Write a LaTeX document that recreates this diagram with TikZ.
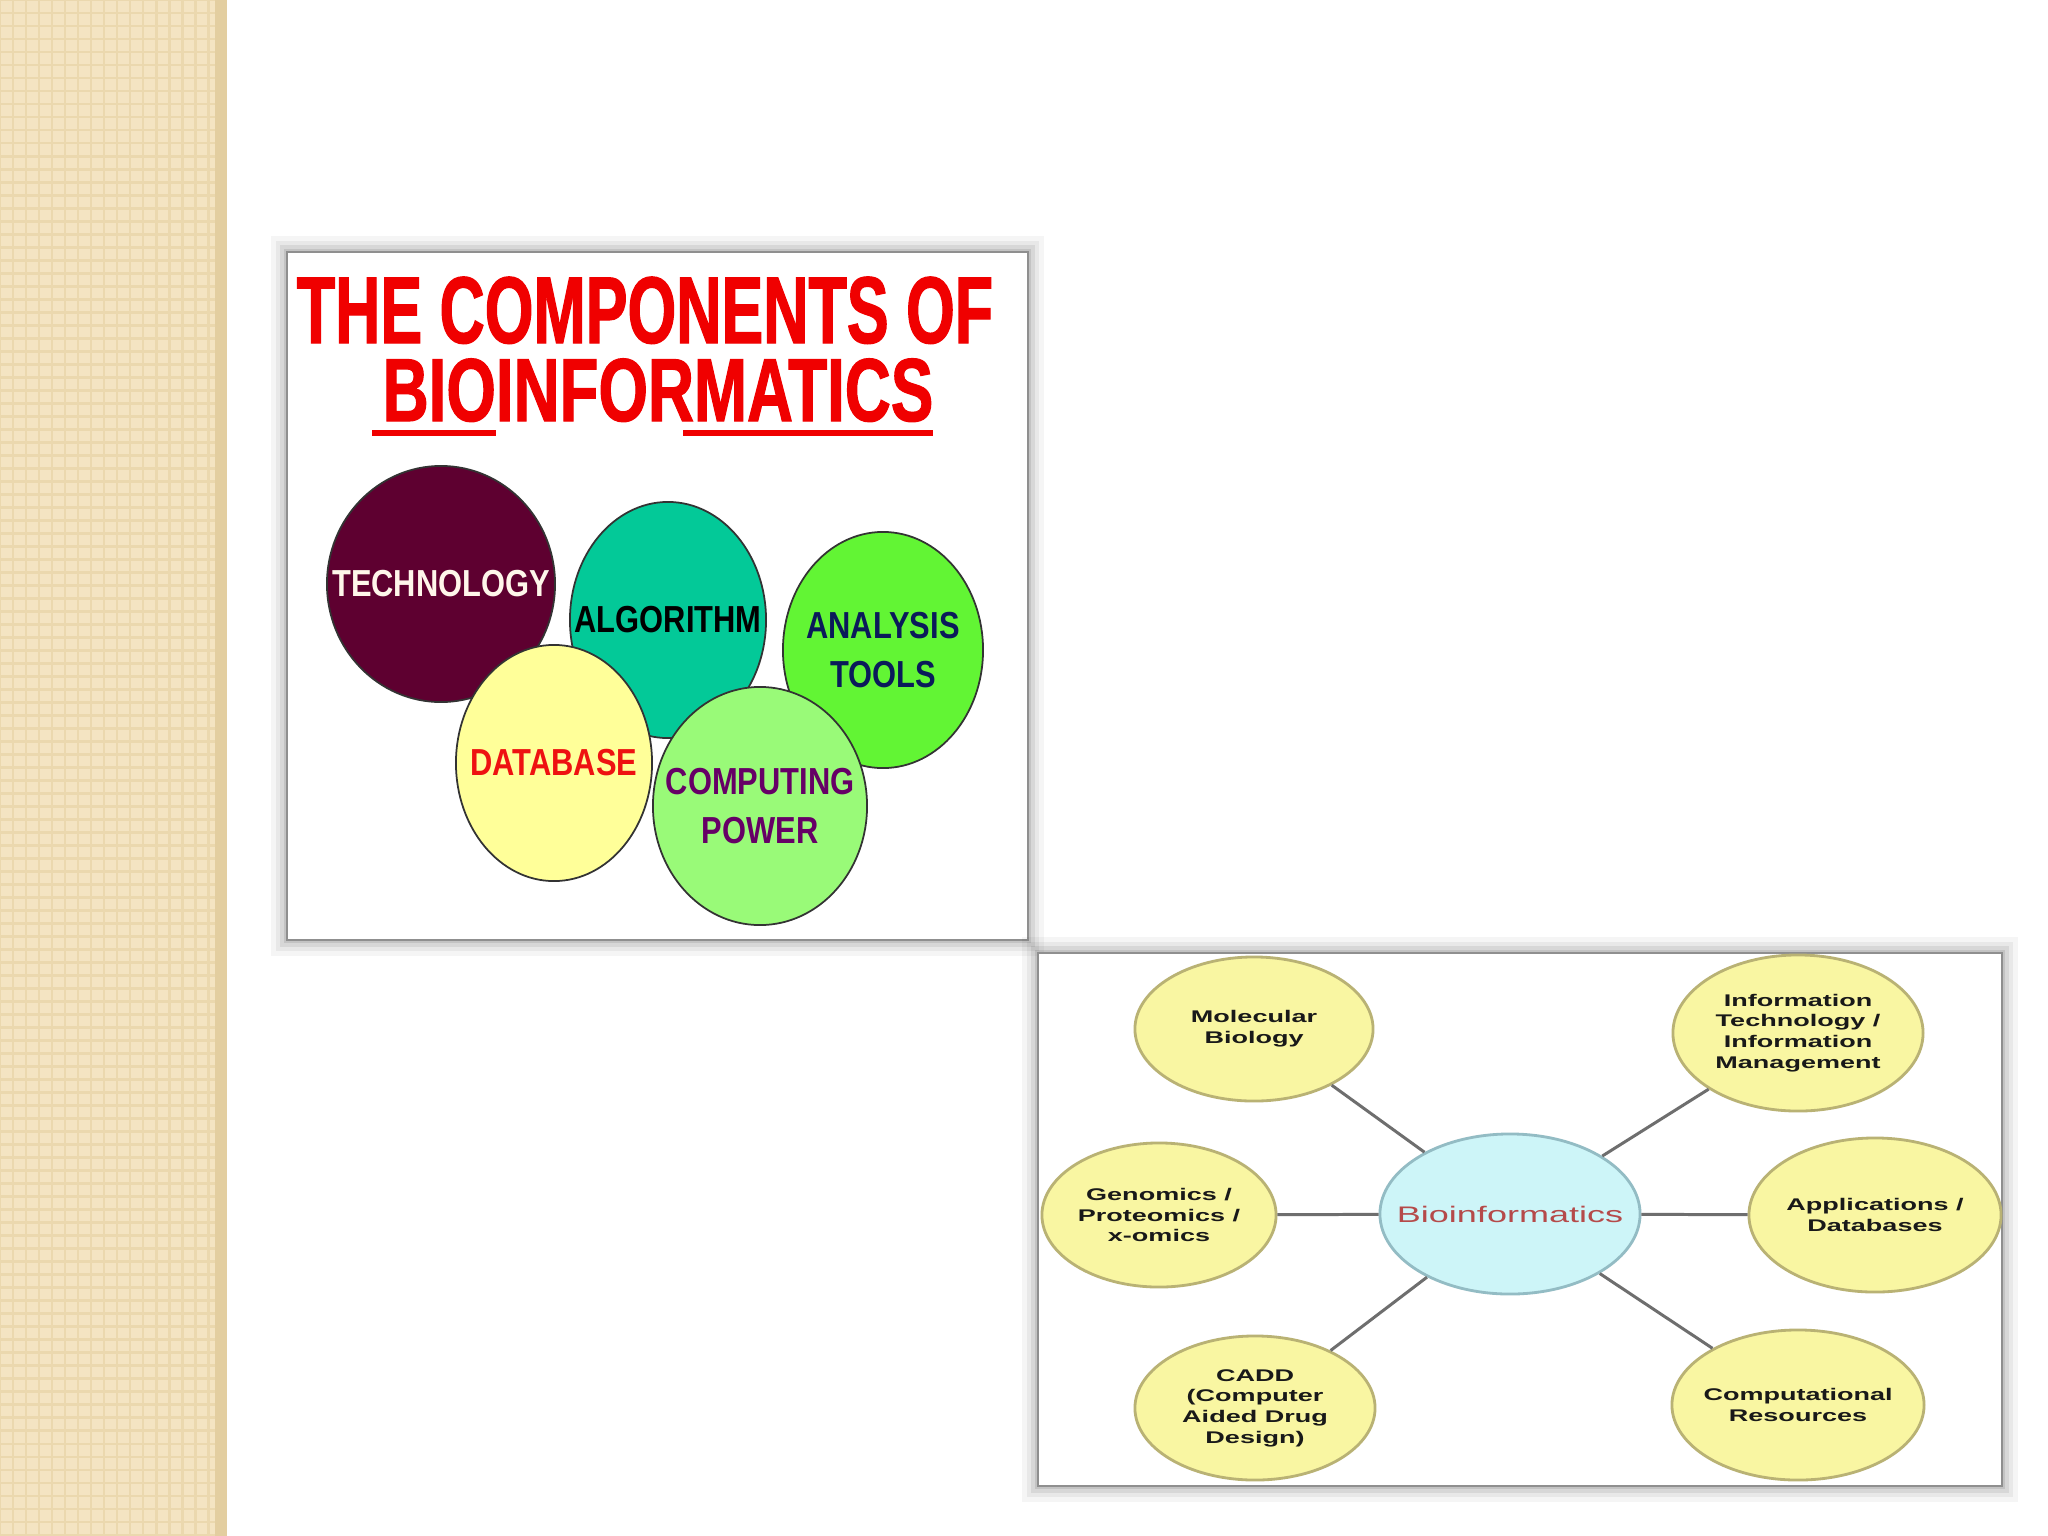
\documentclass[tikz,border=0pt]{standalone}
\usepackage{fontspec}
\usepackage{xcolor}
\usepackage{tikz}
\usetikzlibrary{shapes.geometric}
\setmainfont{Liberation Sans}
\newfontfamily\titlefont[FakeStretch=0.66,FakeBold=1.2]{Liberation Sans}
\newfontfamily\titlefontB[FakeStretch=0.71,FakeBold=1.2]{Liberation Sans}
\newfontfamily\ballfont[FakeStretch=0.82]{Liberation Sans}
\newfontfamily\wheelfont[FakeStretch=1.6]{Liberation Sans}
\definecolor{stripbeige}{HTML}{F4E4C2}
\definecolor{stripdot}{HTML}{EBD8AE}
\definecolor{stripedge}{HTML}{E3CEA0}
\definecolor{framegray}{HTML}{8F8F8F}
\definecolor{titlered}{HTML}{F00000}
\definecolor{techmaroon}{HTML}{5E0030}
\definecolor{techtext}{HTML}{FFF6EA}
\definecolor{algoteal}{HTML}{03C998}
\definecolor{toolgreen}{HTML}{62F534}
\definecolor{dbyellow}{HTML}{FFFF99}
\definecolor{powergreen}{HTML}{99FA78}
\definecolor{toolnavy}{HTML}{0A1A5A}
\definecolor{dbred}{HTML}{EE1111}
\definecolor{powerpurple}{HTML}{660066}
\definecolor{fieldyellow}{HTML}{F9F6A2}
\definecolor{fieldedge}{HTML}{B9B274}
\definecolor{hubcyan}{HTML}{CDF5F8}
\definecolor{hubedge}{HTML}{93BCC4}
\definecolor{hubtext}{HTML}{B54A4A}
\definecolor{spokegray}{HTML}{6E6E6E}
\tikzstyle{panel} = [draw=framegray, line width=0.8pt, fill=white]
\tikzstyle{heading} = [text=titlered, anchor=north, inner sep=0pt, align=center, font=\titlefont\bfseries\fontsize{27}{22.2}\selectfont]
\tikzstyle{ball} = [ellipse, draw=black!80, line width=0.5pt, inner xsep=-0.5cm, inner ysep=0pt, align=center, font=\ballfont\bfseries\fontsize{10.7}{13.7}\selectfont]
\tikzstyle{field} = [ellipse, draw=fieldedge, fill=fieldyellow, line width=0.8pt, inner xsep=-0.5cm, inner ysep=0pt, align=center, text=black!90, font=\wheelfont\bfseries\fontsize{4.8}{5.9}\selectfont]
\tikzstyle{hub} = [field, draw=hubedge, fill=hubcyan, text=hubtext, font=\wheelfont\fontsize{6.4}{7.5}\selectfont]
\tikzstyle{spoke} = [line width=0.85pt, color=spokegray]
\newsavebox{\ulbox}
\newcommand{\titleul}[1]{\sbox{\ulbox}{#1}\rlap{\kern-3pt\rule[-4.3pt]{\dimexpr\wd\ulbox+3pt\relax}{1.7pt}}\usebox{\ulbox}}

\begin{document}
\begin{tikzpicture}[x=0.01cm, y=-0.01cm]
    % Slide with two bioinformatics figures
    \useasboundingbox (0,0) rectangle (2048,1536);
    \fill[white] (0,0) rectangle (2048,1536);
    \fill[stripbeige] (0,0) rectangle (227,1536);
    \draw[stripdot, line width=0.8pt, step=0.13cm] (0,0) grid (227,1536);
    \fill[stripedge] (215,0) rectangle (227,1536);

    % left figure
    \foreach \s/\o in {16/0.04, 11/0.05, 7/0.07, 3/0.09}
        \fill[black, opacity=\o] (287-\s,252-\s) rectangle (1028+\s,940+\s);
    \draw[panel] (287,252) rectangle (1028,940);
    \node[heading] (title) at (645,276) {THE COMPONENTS OF\\{\titlefontB\fontsize{25.5}{22.2}\selectfont\hspace*{7.4pt}\titleul{BIO}INFOR\titleul{MATICS}}};

    \node[ball, fill=techmaroon, text=techtext, minimum width=2.28cm, minimum height=2.36cm] (tech) at (441,584) {TECHNOLOGY};
    \node[ball, fill=algoteal, text=black, minimum width=1.96cm, minimum height=2.36cm] (algo) at (668,620) {ALGORITHM};
    \node[ball, fill=toolgreen, text=toolnavy, minimum width=2.00cm, minimum height=2.36cm] (tools) at (883,650) {ANALYSIS\\TOOLS};
    \node[ball, fill=dbyellow, text=dbred, minimum width=1.96cm, minimum height=2.36cm] (db) at (554,763) {DATABASE};
    \node[ball, fill=powergreen, text=powerpurple, minimum width=2.14cm, minimum height=2.38cm] (power) at (760,806) {COMPUTING\\POWER};

    % right figure
    \foreach \s/\o in {16/0.04, 11/0.05, 7/0.07, 3/0.09}
        \fill[black, opacity=\o] (1038-\s,953-\s) rectangle (2002+\s,1486+\s);
    \draw[panel] (1038,953) rectangle (2002,1486);
    \node[hub, minimum width=2.60cm, minimum height=1.60cm] (bioinf) at (1510,1214) {Bioinformatics};
    \node[field, minimum width=2.38cm, minimum height=1.44cm] (molbio) at (1254,1029) {Molecular\\Biology};
    \node[field, minimum width=2.50cm, minimum height=1.56cm] (infotech) at (1798,1033) {Information\\Technology /\\Information\\Management};
    \node[field, minimum width=2.34cm, minimum height=1.44cm] (omics) at (1159,1215) {Genomics /\\Proteomics /\\x-omics};
    \node[field, minimum width=2.52cm, minimum height=1.54cm] (apps) at (1875,1215) {Applications /\\Databases};
    \node[field, minimum width=2.40cm, minimum height=1.44cm] (cadd) at (1255,1408) {CADD\\(Computer\\Aided Drug\\Design)};
    \node[field, minimum width=2.52cm, minimum height=1.50cm] (compres) at (1798,1405) {Computational\\Resources};

    \draw[spoke] (bioinf) -- (molbio);
    \draw[spoke] (bioinf) -- (infotech);
    \draw[spoke] (bioinf) -- (omics);
    \draw[spoke] (bioinf) -- (apps);
    \draw[spoke] (bioinf) -- (cadd);
    \draw[spoke] (bioinf) -- (compres);
\end{tikzpicture}
\end{document}
